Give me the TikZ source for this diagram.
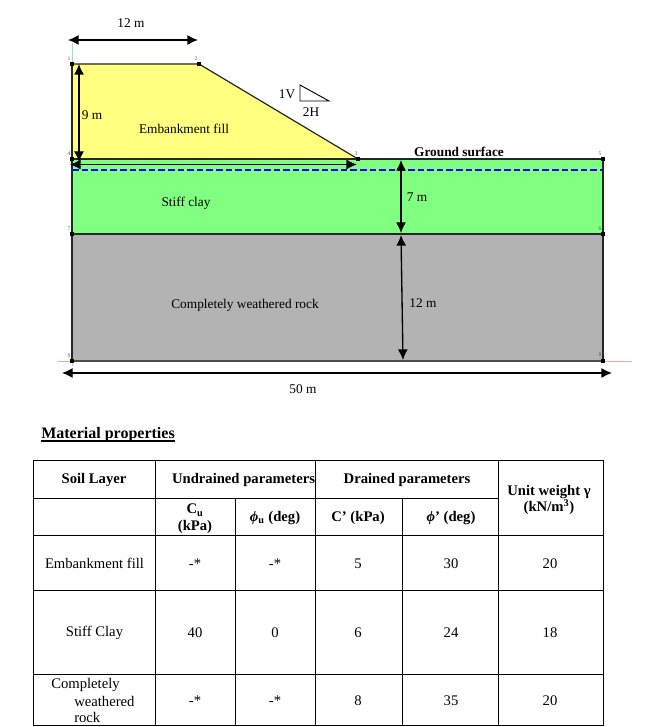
\documentclass[tikz,border=0pt]{standalone}
\usepackage{fontspec}
\setmainfont{Liberation Serif}
\usetikzlibrary{arrows.meta}
\definecolor{fillyellow}{HTML}{FFFF80}
\definecolor{claygreen}{HTML}{80FF80}
\definecolor{rockgray}{HTML}{B3B3B3}
\definecolor{axisred}{HTML}{F4A79B}
\definecolor{axisgreen}{HTML}{7FF0B8}
\tikzset{
  lab/.style={inner sep=0pt,font=\fontsize{10}{12}\selectfont},
  tick/.style={inner sep=0pt,text=black!65,font=\fontsize{4.2}{5}\selectfont},
  pt/.style={inner sep=0pt,minimum size=3pt,fill=black},
  dim/.style={{Latex[length=8pt,width=7.5pt]}-{Latex[length=8pt,width=7.5pt]},line width=1pt},
  edge/.style={line width=0.9pt,black!85},
  rule/.style={line width=0.75pt},
  cell/.style={inner sep=0pt,font=\fontsize{11}{13}\selectfont},
  head/.style={inner sep=0pt,align=center,font=\fontsize{11}{12.6}\selectfont\bfseries}
}
\begin{document}
\begin{tikzpicture}[x=0.75pt,y=-0.75pt]
\useasboundingbox (0,0) rectangle (645,727);
% corner points of the section
\coordinate (p1) at (72,64);
\coordinate (p2) at (199,64);
\coordinate (p3) at (358,159);
\coordinate (p4) at (72,159);
\coordinate (p5) at (603,159);
\coordinate (p6) at (603,234);
\coordinate (p7) at (72,234);
\coordinate (p8) at (603,361);
\coordinate (p9) at (72,361);
% layers
\fill[fillyellow] (p1)--(p2)--(p3)--(p4)--cycle;
\fill[claygreen] (p4)--(p5)--(p6)--(p7)--cycle;
\fill[rockgray] (p7)--(p6)--(p8)--(p9)--cycle;
% axes
\coordinate (ax1) at (72,43);
\coordinate (ax2) at (72,366);
\coordinate (ax3) at (58,361);
\coordinate (ax4) at (632,361);
\draw[axisgreen,line width=0.6pt] (ax1)--(p1);
\draw[axisgreen,line width=0.6pt] (p9)--(ax2);
\draw[axisred,line width=0.6pt] (ax3)--(p9);
\draw[axisred,line width=0.6pt] (p8)--(ax4);
% boundaries
\draw[edge] (p1)--(p2)--(p3);
\draw[edge] (p1)--(p4)--(p7)--(p9);
\draw[edge] (p4)--(p3)--(p5)--(p6)--(p8);
\draw[edge] (p7)--(p6);
\draw[edge,black!70,line width=1.1pt] (p9)--(p8);
% water level
\coordinate (w1) at (72,170);
\coordinate (w2) at (603,170);
\draw[blue,line width=1pt,dash pattern=on 5pt off 2.2pt] (w1)--(w2);
% point marks
\node[pt] (m1) at (p1) {};
\node[pt] (m2) at (p2) {};
\node[pt] (m3) at (p3) {};
\node[pt] (m4) at (p4) {};
\node[pt] (m5) at (p5) {};
\node[pt] (m6) at (p6) {};
\node[pt] (m7) at (p7) {};
\node[pt] (m8) at (p8) {};
\node[pt] (m9) at (p9) {};
\node[tick] (n1) at (69,59) {1};
\node[tick] (n2) at (196,59) {2};
\node[tick] (n3) at (356,154) {3};
\node[tick] (n4) at (69,154) {4};
\node[tick] (n5) at (600,154) {5};
\node[tick] (n6) at (600,229) {6};
\node[tick] (n7) at (69,229) {7};
\node[tick] (n8) at (600,355) {8};
\node[tick] (n9) at (69,356) {9};
% dimensions
\coordinate (d1a) at (68,40);
\coordinate (d1b) at (198,40);
\coordinate (d2a) at (79,64);
\coordinate (d2b) at (79,162);
\coordinate (d3a) at (70,164.5);
\coordinate (d3b) at (357,164.5);
\coordinate (d4a) at (401,160);
\coordinate (d4b) at (401,233);
\coordinate (d5a) at (401,235);
\coordinate (d5b) at (403,360);
\coordinate (d6a) at (62,373);
\coordinate (d6b) at (612,373);
\draw[dim] (d1a)--(d1b);
\draw[dim] (d2a)--(d2b);
\draw[dim] (d3a)--(d3b);
\draw[dim] (d4a)--(d4b);
\draw[dim] (d5a)--(d5b);
\draw[dim] (d6a)--(d6b);
% slope triangle
\coordinate (s1) at (300,85);
\coordinate (s2) at (300,101);
\coordinate (s3) at (329,101);
\draw[line width=0.7pt] (s1)--(s2)--(s3)--cycle;
% labels of the section
\node[lab] (l12top) at (131,23) {12 m};
\node[lab] (l9) at (92,115) {9 m};
\node[lab] (lfill) at (184,129) {Embankment fill};
\node[lab] (lv) at (287,94.5) {1V};
\node[lab] (lh) at (311,112) {2H};
\node[lab,font=\fontsize{10}{12}\selectfont\bfseries] (lground) at (459,152) {Ground surface};
\node[lab] (lclay) at (186,203) {Stiff clay};
\node[lab] (l7) at (417,197) {7 m};
\node[lab] (lrock) at (245,305) {Completely weathered rock};
\node[lab] (l12) at (423,303) {12 m};
\node[lab] (l50) at (303,389) {50 m};
% table
\node[inner sep=0pt,anchor=west,font=\fontsize{12}{14}\selectfont\bfseries] (ttitle) at (41,434.5) {Material properties};
\coordinate (u1) at (41,441);
\coordinate (u2) at (175,441);
\draw[line width=0.9pt] (u1)--(u2);
\coordinate (t1) at (33,460);
\coordinate (t2) at (603,725);
\draw[rule] (t1) rectangle (t2);
\draw[rule] (33,498)--(498,498);
\draw[rule] (33,535)--(603,535);
\draw[rule] (33,590)--(603,590);
\draw[rule] (33,674)--(603,674);
\draw[rule] (155,460)--(155,725);
\draw[rule] (235,498)--(235,725);
\draw[rule] (315.5,460)--(315.5,725);
\draw[rule] (402,498)--(402,725);
\draw[rule] (498,460)--(498,725);
\node[head] (hlayer) at (94,480) {Soil Layer};
\node[head] (hund) at (243.5,480) {Undrained parameters};
\node[head] (hdr) at (407,480) {Drained parameters};
\node[head] (hunit) at (549,500) {Unit weight γ\\(kN/m\textsuperscript{3})};
\node[head] (hcu) at (195,519) {C\textsubscript{u}\\(kPa)};
\node[head] (hphiu) at (275,518) {\textit{ϕ}\textsubscript{u} (deg)};
\node[head] (hcd) at (358,518) {C’ (kPa)};
\node[head] (hphid) at (451,518) {\textit{ϕ}’ (deg)};
\node[cell] (a1) at (94.5,563.5) {Embankment fill};
\node[cell] (a2) at (195,563.5) {-*};
\node[cell] (a3) at (275,563.5) {-*};
\node[cell] (a4) at (358,563.5) {5};
\node[cell] (a5) at (451,563.5) {30};
\node[cell] (a6) at (550,563.5) {20};
\node[cell] (b1) at (94.5,633) {Stiff Clay};
\node[cell] (b2) at (195,632.5) {40};
\node[cell] (b3) at (275,632.5) {0};
\node[cell] (b4) at (358,632.5) {6};
\node[cell] (b5) at (451,632.5) {24};
\node[cell] (b6) at (550,632.5) {18};
\node[cell,anchor=west] (c1a) at (51,684.5) {Completely};
\node[cell,anchor=west] (c1b) at (74,701.5) {weathered};
\node[cell,anchor=west] (c1c) at (74,717.5) {rock};
\node[cell] (c2) at (195,700.5) {-*};
\node[cell] (c3) at (275,700.5) {-*};
\node[cell] (c4) at (358,700.5) {8};
\node[cell] (c5) at (451,700.5) {35};
\node[cell] (c6) at (550,700.5) {20};
\end{tikzpicture}
\end{document}
